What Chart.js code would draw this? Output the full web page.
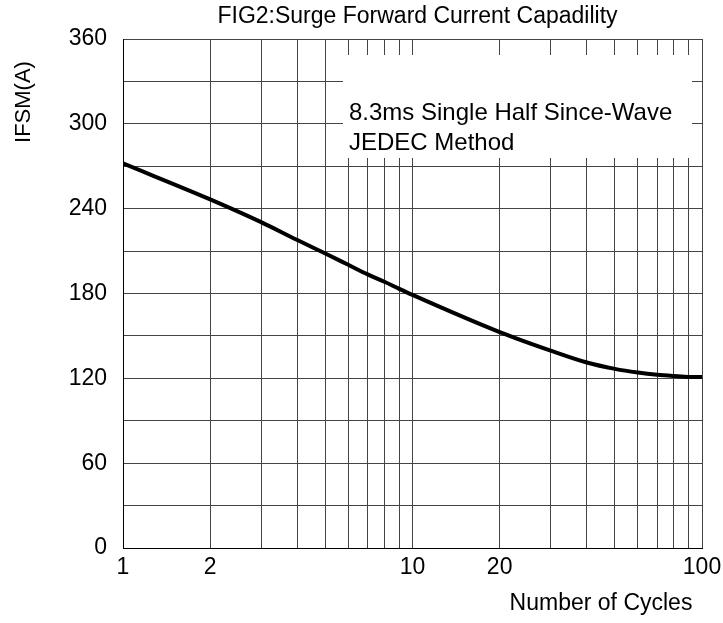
<!DOCTYPE html>
<html>
<head>
<meta charset="utf-8">
<script src="https://cdn.jsdelivr.net/npm/chart.js@4"></script>
<style>
  body { margin: 0; background: #fff; }
</style>
</head>
<body>
<canvas id="chart" width="723" height="623"></canvas>
<script>
// values (curve read against a log axis from 1 to 100)
const cycles = [1, 2, 3, 4, 5, 6, 7, 8, 9, 10, 20, 30, 40, 50, 60, 70, 80, 90, 100];
const ifsm = [272, 246.6, 230.5, 217.8, 208.3, 200.3, 193.5, 188.3, 183.3, 179, 152.7, 139.6, 131.2, 126.7, 124.1, 122.5, 121.6, 121, 121];

const xGrid = [1, 2, 3, 4, 5, 6, 7, 8, 9, 10, 20, 30, 40, 50, 60, 70, 80, 90, 100];
const xLabels = [1, 2, 10, 20, 100];
const yLabels = [0, 60, 120, 180, 240, 300, 360];

const titleText = 'FIG2:Surge Forward Current Capadility';
const xTitle = 'Number of Cycles';
const yTitle = 'IFSM(A)';
const noteLines = ['8.3ms Single Half Since-Wave', 'JEDEC Method'];

const FONT = 'Liberation Sans, Arial, sans-serif';
const gridColor = '#444';

const textPlugin = {
  id: 'textPlugin',
  beforeDatasetsDraw(chart) {
    const ctx = chart.ctx;
    // white note box over the grid
    ctx.save();
    ctx.fillStyle = '#fff';
    ctx.fillRect(343, 55, 349, 103);
    ctx.fillStyle = '#000';
    ctx.font = '24px ' + FONT;
    ctx.textBaseline = 'middle';
    ctx.textAlign = 'left';
    ctx.fillText(noteLines[0], 349, 113);
    ctx.fillText(noteLines[1], 349, 143);
    ctx.restore();
  },
  afterDraw(chart) {
    const ctx = chart.ctx;
    const area = chart.chartArea;
    ctx.save();
    ctx.fillStyle = '#000';
    ctx.font = '23px ' + FONT;
    ctx.textBaseline = 'middle';
    ctx.textAlign = 'center';
    ctx.fillText(titleText, (area.left + area.right) / 2 + 5, 17);
    ctx.fillText(xTitle, 601, 604);
    ctx.translate(24, 102);
    ctx.rotate(-Math.PI / 2);
    ctx.font = '22px ' + FONT;
    ctx.fillText(yTitle, 0, 0);
    ctx.restore();
  }
};

new Chart(document.getElementById('chart'), {
  type: 'line',
  data: {
    datasets: [{
      data: cycles.map((c, i) => ({ x: c, y: ifsm[i] })),
      borderColor: '#000',
      borderWidth: 4,
      pointRadius: 0,
      fill: false,
      cubicInterpolationMode: 'monotone'
    }]
  },
  options: {
    responsive: false,
    animation: false,
    devicePixelRatio: 1,
    layout: { padding: { top: 39, right: 21, left: 0, bottom: 0 } },
    plugins: {
      legend: { display: false },
      title: { display: false },
      tooltip: { enabled: false }
    },
    scales: {
      x: {
        type: 'logarithmic',
        min: 1,
        max: 100,
        afterBuildTicks: s => { s.ticks = xGrid.map(v => ({ value: v })); },
        afterFit: s => { s.height = 75; s.paddingRight = 0; s.paddingLeft = 0; },
        grid: { color: gridColor, drawTicks: false },
        border: { color: '#000' },
        ticks: {
          autoSkip: false,
          maxRotation: 0,
          padding: 6,
          color: '#000',
          font: { family: FONT, size: 23 },
          callback: v => xLabels.includes(v) ? String(v) : ''
        }
      },
      y: {
        min: 0,
        max: 360,
        afterFit: s => { s.width = 123; },
        grid: { color: gridColor, drawTicks: false },
        border: { color: '#000' },
        ticks: {
          stepSize: 30,
          padding: 16,
          color: '#000',
          font: { family: FONT, size: 23 },
          callback: v => yLabels.includes(v) ? String(v) : ''
        }
      }
    }
  },
  plugins: [textPlugin]
});
</script>
</body>
</html>
